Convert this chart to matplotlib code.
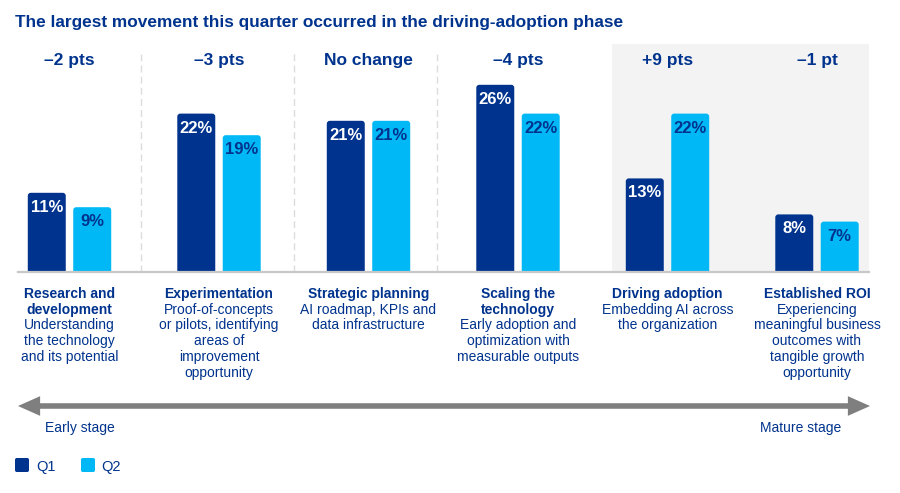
import matplotlib
matplotlib.use("Agg")
import matplotlib.pyplot as plt
from matplotlib.patches import FancyBboxPatch, FancyArrowPatch
from matplotlib.transforms import blended_transform_factory

plt.rcParams['font.family'] = ['Liberation Sans', 'DejaVu Sans']

# ---- data ----
stage_titles = ["Research and\ndevelopment", "Experimentation", "Strategic planning",
                "Scaling the\ntechnology", "Driving adoption", "Established ROI"]
stage_descs = ["Understanding\nthe technology\nand its potential",
               "Proof-of-concepts\nor pilots, identifying\nareas of\nimprovement\nopportunity",
               "AI roadmap, KPIs and\ndata infrastructure",
               "Early adoption and\noptimization with\nmeasurable outputs",
               "Embedding AI across\nthe organization",
               "Experiencing\nmeaningful business\noutcomes with\ntangible growth\nopportunity"]
q1 = [11, 22, 21, 26, 13, 8]
q2 = [9, 19, 21, 22, 22, 7]
changes = ["\u20132 pts", "\u20133 pts", "No change", "\u20134 pts", "+9 pts", "\u20131 pt"]
series_names = ["Q1", "Q2"]
title = "The largest movement this quarter occurred in the driving-adoption phase"
stage_ends = ["Early stage", "Mature stage"]

NAVY = "#00338D"
CYAN = "#00B8F5"
GREY_BG = "#F3F3F3"

W, H = 900, 493
fig = plt.figure(figsize=(W / 100, H / 100), dpi=100)
fig.patch.set_facecolor("white")

def fy(py):
    return (H - py) / H

def fx(px):
    return px / W

# axes: x from 18px to 869px, y from 44px (top) to 272px (baseline)
ax = fig.add_axes([fx(18), fy(272), fx(869) - fx(18), fy(44) - fy(272)])
xunit = 149.5
x0 = -(69.5 - 18) / xunit
x1 = x0 + (869 - 18) / xunit
ymax = (272 - 44) / 7.2
ax.set_xlim(x0, x1)
ax.set_ylim(0, ymax)
ax.axis("off")

# shaded region for last two stages
ax.axvspan(3.63, x1, color=GREY_BG, zorder=0, lw=0)

# dashed separators
for sx in [0.48, 1.5, 2.46]:
    ax.plot([sx, sx], [0, 30.8], color="#DCDCDC", lw=1, ls=(0, (5, 3)), zorder=1)

# baseline
ax.axhline(0, color="#C8C8C8", lw=1.6, zorder=3, clip_on=False)

bw = 0.254
off = 0.152
px_per_y = 7.2
rad_px = 3.0
for i in range(len(q1)):
    for val, dx, col, tcol in [(q1[i], -off, NAVY, "white"), (q2[i], off, CYAN, NAVY)]:
        x = i + dx
        p = FancyBboxPatch((x - bw / 2, -1), bw, val + 1,
                           boxstyle=f"round,pad=0,rounding_size={rad_px / xunit}",
                           mutation_aspect=xunit / px_per_y,
                           facecolor=col, edgecolor="none", zorder=2)
        ax.add_patch(p)
        ax.annotate(f"{val}%", (x, val), xytext=(0, -10.5), textcoords="offset points",
                    ha="center", va="center", color=tcol, fontsize=12, fontweight="bold",
                    zorder=4)
    ax.text(i, (272 - 61) / px_per_y, changes[i], ha="center", va="center",
            color=NAVY, fontsize=12.5, fontweight="bold")

# category labels below
trans = blended_transform_factory(ax.transData, fig.transFigure)
line_h = 15.7
base0 = 298
for i in range(len(stage_titles)):
    lines = [(l, "bold") for l in stage_titles[i].split("\n")] + \
            [(l, "normal") for l in stage_descs[i].split("\n")]
    for k, (l, w) in enumerate(lines):
        fig.text(i, fy(base0 + k * line_h), l, transform=trans, ha="center",
                 va="baseline", color=NAVY, fontsize=10, fontweight=w)

# title
fig.text(fx(15), fy(27), title, ha="left", va="baseline", color=NAVY,
         fontsize=12.45, fontweight="bold")

# arrow
arr = FancyArrowPatch((fx(18), fy(406)), (fx(870), fy(406)), transform=fig.transFigure,
                      arrowstyle="<|-|>,head_length=0.45,head_width=0.2",
                      mutation_scale=20, color="#7F7F7F", lw=4, shrinkA=0, shrinkB=0,
                      joinstyle="miter", capstyle="butt")
fig.patches.append(arr)
fig.text(fx(45), fy(432), stage_ends[0], ha="left", va="baseline", color=NAVY, fontsize=10)
fig.text(fx(760), fy(432), stage_ends[1], ha="left", va="baseline", color=NAVY, fontsize=10)

# legend
for (sx, tx), name, col in zip([(15, 36), (81, 101)], series_names, [NAVY, CYAN]):
    sq = FancyBboxPatch((fx(sx), fy(472)), fx(14), 14 / H, transform=fig.transFigure,
                        boxstyle="round,pad=0,rounding_size=0.002",
                        mutation_aspect=W / H, facecolor=col, edgecolor="none")
    fig.patches.append(sq)
    fig.text(fx(tx), fy(471), name, ha="left", va="baseline", color=NAVY, fontsize=10.5)

fig.savefig("out.png", dpi=100)
